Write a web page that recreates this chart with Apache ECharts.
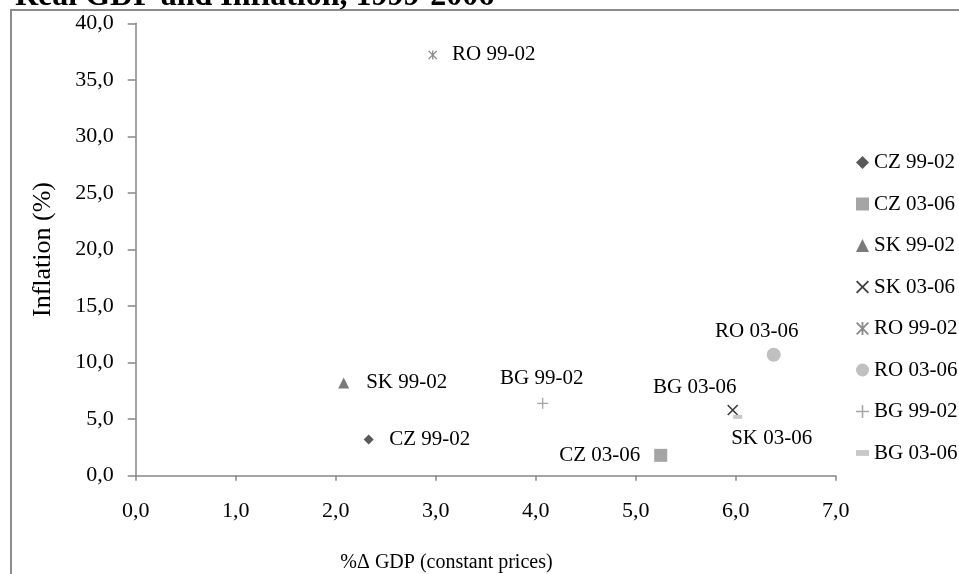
<!DOCTYPE html>
<html>
<head>
<meta charset="utf-8">
<script src="https://cdn.jsdelivr.net/npm/echarts@6/dist/echarts.min.js"></script>
<style>
  html, body { margin: 0; padding: 0; background: #fff; }
  #main { width: 959px; height: 574px; }
</style>
</head>
<body>
<div id="main"></div>
<script>
// data
var NAMES = ['CZ 99-02', 'CZ 03-06', 'SK 99-02', 'SK 03-06', 'RO 99-02', 'RO 03-06', 'BG 99-02', 'BG 03-06'];
var GDP = [2.33, 5.25, 2.08, 5.97, 2.97, 6.38, 4.07, 6.02];
var INFLATION = [3.2, 1.8, 8.2, 5.8, 37.2, 10.7, 6.4, 5.2];
var X_RANGE = [0, 7, 1];
var Y_RANGE = [0, 40, 5];

// marker look, one per series
var CROSS = 'M0,1 L1,0 L5,4 L9,0 L10,1 L6,5 L10,9 L9,10 L5,6 L1,10 L0,9 L4,5 Z';
var SYMBOLS = [
    'diamond',
    'rect',
    'triangle',
    'path://' + CROSS,
    'path://' + CROSS + ' M4.3,0 L5.7,0 L5.7,10 L4.3,10 Z',
    'circle',
    'path://M4.4,0 L5.6,0 L5.6,4.4 L10,4.4 L10,5.6 L5.6,5.6 L5.6,10 L4.4,10 L4.4,5.6 L0,5.6 L0,4.4 L4.4,4.4 Z',
    'path://M0,0 L9,0 L9,4 L0,4 Z'
];
var SIZES = [10, 13, 11, 11, 9, 14, 11, 9];
var COLORS = ['#595959', '#a5a5a5', '#7a7a7a', '#404040', '#8a8a8a', '#c0c0c0', '#a6a6a6', '#c8c8c8'];
// label centre relative to the point
var LABEL_OFFSET = [[61, 0], [-61, 0], [63, 0], [39, 28], [61, 0], [-17, -23], [-1, -25], [-43, -29]];

var FONT = 'Liberation Serif';

function comma(v) {
    return v.toFixed(1).replace('.', ',');
}

var series = [];
for (var i = 0; i < NAMES.length; i++) {
    series.push({
        name: NAMES[i],
        type: 'scatter',
        symbol: SYMBOLS[i],
        symbolSize: SIZES[i],
        symbolKeepAspect: true,
        itemStyle: { color: COLORS[i], opacity: 1 },
        label: {
            show: true,
            position: 'inside',
            offset: LABEL_OFFSET[i],
            formatter: NAMES[i],
            color: '#000',
            fontFamily: FONT,
            fontSize: 21
        },
        emphasis: { disabled: true },
        data: [[GDP[i], INFLATION[i]]]
    });
}

var chart = echarts.init(document.getElementById('main'));
chart.setOption({
    animation: false,
    backgroundColor: '#fff',
    grid: {
        left: 135.7,
        right: 123.3,
        top: 23.3,
        bottom: 98.3,
        containLabel: false
    },
    legend: {
        orient: 'vertical',
        left: 851,
        top: 146.5,
        itemWidth: 13,
        itemHeight: 13,
        itemGap: 19.5,
        selectedMode: false,
        textStyle: { fontFamily: FONT, fontSize: 21, color: '#000', lineHeight: 22 },
        data: NAMES
    },
    xAxis: {
        type: 'value',
        min: X_RANGE[0],
        max: X_RANGE[1],
        interval: X_RANGE[2],
        splitLine: { show: false },
        axisLine: { lineStyle: { color: '#868686', width: 1.5 } },
        axisTick: { show: true, length: 5, lineStyle: { color: '#868686', width: 1.5 } },
        axisLabel: {
            margin: 25,
            color: '#000',
            fontFamily: FONT,
            fontSize: 22,
            formatter: comma
        }
    },
    yAxis: {
        type: 'value',
        min: Y_RANGE[0],
        max: Y_RANGE[1],
        interval: Y_RANGE[2],
        splitLine: { show: false },
        axisLine: { show: true, lineStyle: { color: '#868686', width: 1.5 } },
        axisTick: { show: true, length: 8, lineStyle: { color: '#868686', width: 1.5 } },
        axisLabel: {
            margin: 22,
            color: '#000',
            fontFamily: FONT,
            fontSize: 22,
            formatter: comma
        },
        name: 'Inflation (%)',
        nameLocation: 'middle',
        nameRotate: 90,
        nameGap: 80,
        nameTextStyle: { fontFamily: FONT, fontSize: 26, color: '#000' }
    },
    graphic: [
        {
            type: 'rect',
            silent: true,
            shape: { x: 11, y: 10, width: 1000, height: 1000 },
            style: { fill: null, stroke: '#8c8c8c', lineWidth: 2 }
        },
        {
            type: 'text',
            silent: true,
            x: 15,
            y: -3.5,
            style: {
                text: 'Real GDP and Inflation, 1999-2006',
                font: 'bold 32px "Liberation Serif"',
                fill: '#000',
                textAlign: 'left',
                textVerticalAlign: 'middle'
            }
        },
        {
            type: 'text',
            silent: true,
            x: 446.5,
            y: 563,
            style: {
                text: '%\u0394 GDP (constant prices)',
                font: '20px "Liberation Serif"',
                fill: '#000',
                textAlign: 'center',
                textVerticalAlign: 'middle'
            }
        }
    ],
    series: series
});
</script>
</body>
</html>
